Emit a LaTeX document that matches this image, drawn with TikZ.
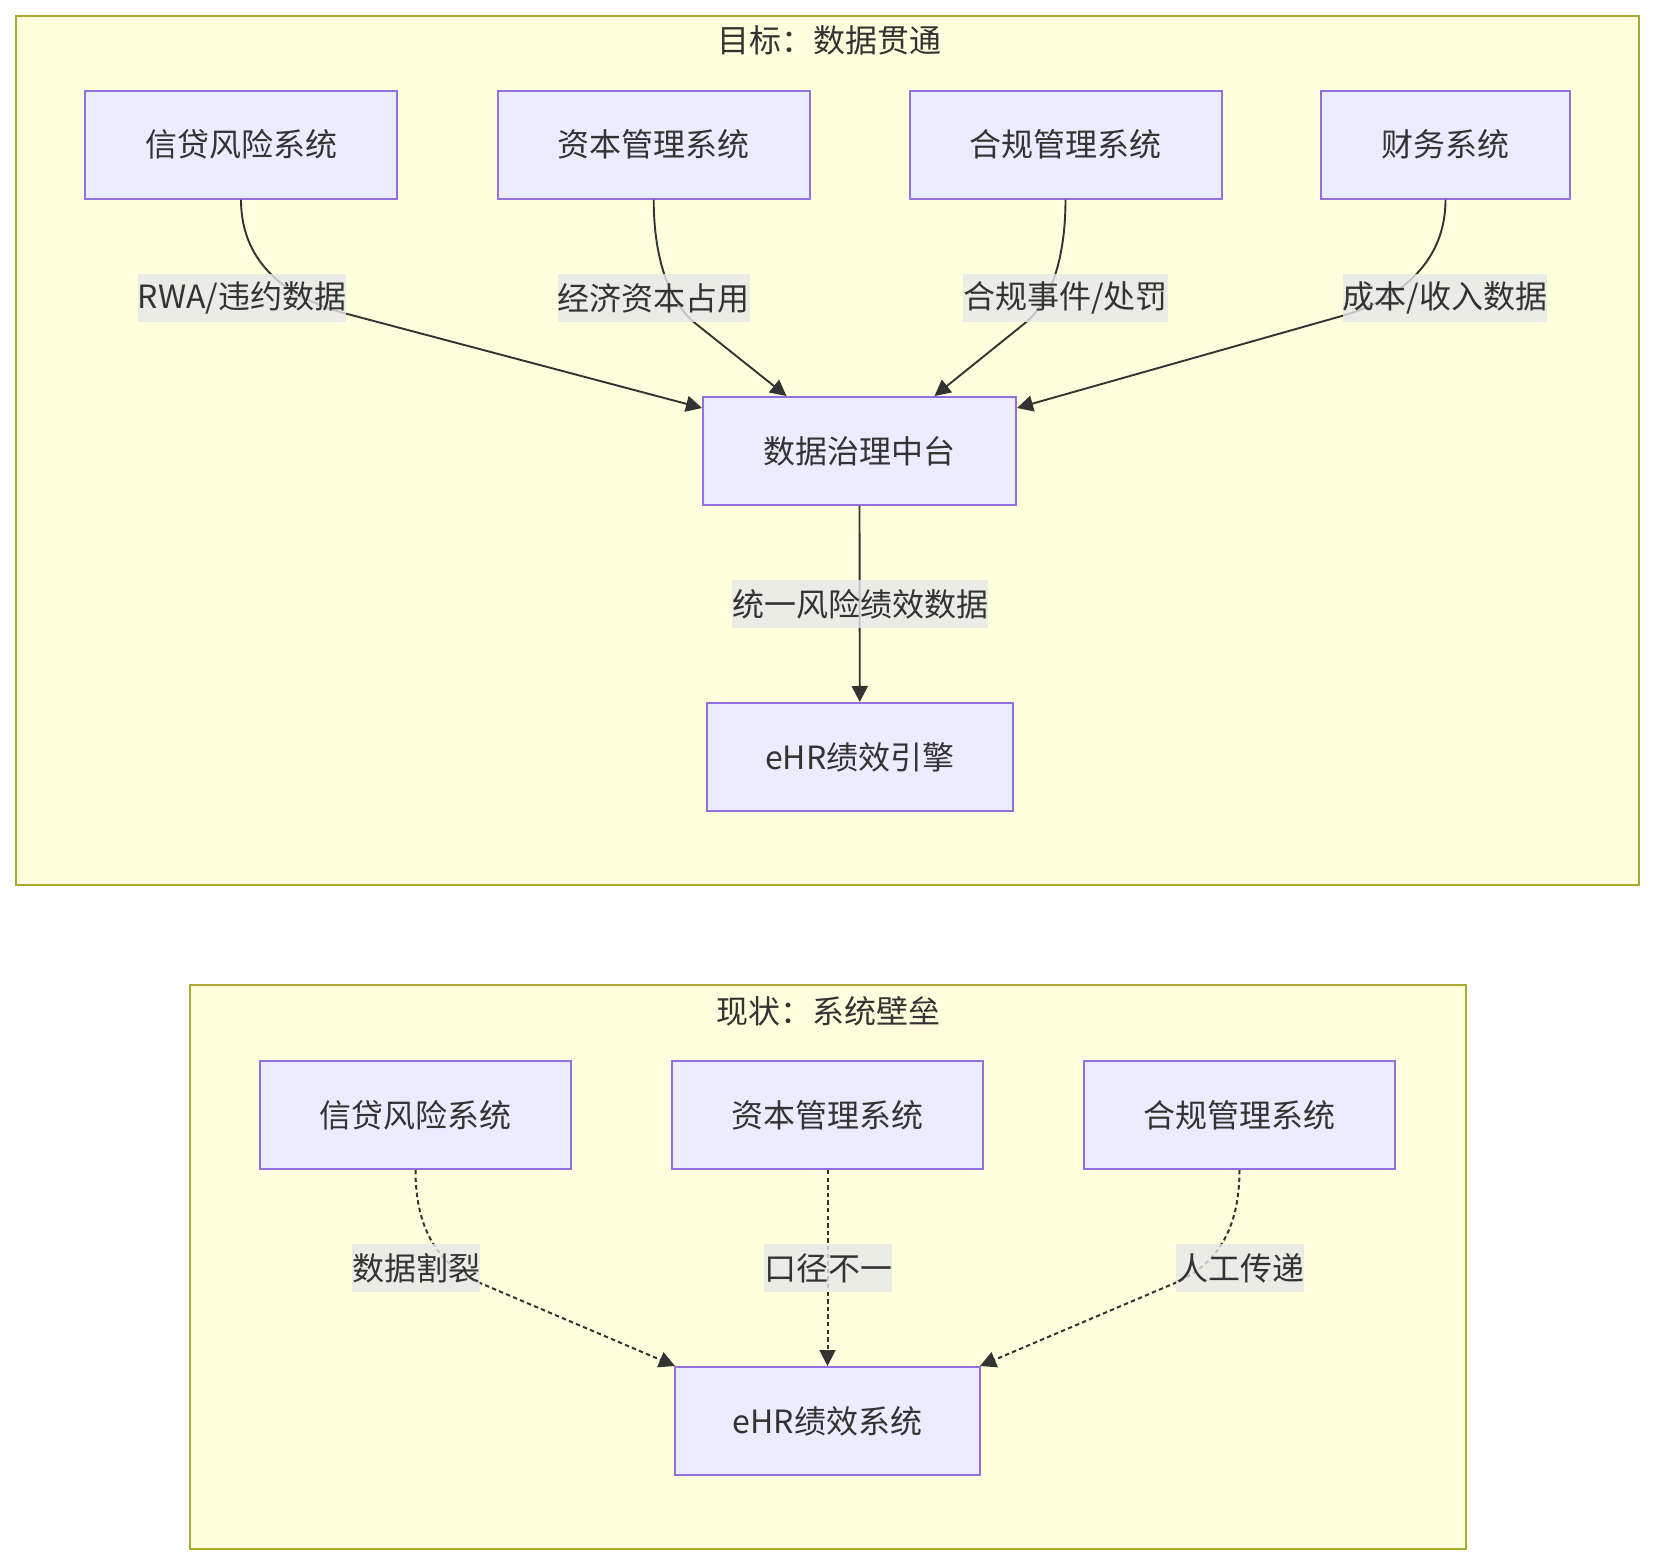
\documentclass[tikz,border=0pt]{standalone}
\usepackage{fontspec}
\setmainfont{Noto Sans CJK SC}
\usetikzlibrary{arrows.meta,calc}
\definecolor{nodefill}{HTML}{ECECFF}
\definecolor{nodeborder}{HTML}{9370DB}
\definecolor{clusterfill}{HTML}{FFFFDE}
\definecolor{clusterborder}{HTML}{AAAA33}
\definecolor{textc}{HTML}{333333}
\definecolor{edgec}{HTML}{333333}
\definecolor{labelbg}{HTML}{E8E8E8}
\begin{document}
\begin{tikzpicture}[x=0.5pt,y=-0.5pt,
  font=\fontsize{16pt}{20pt}\selectfont,
  cluster/.style={draw=clusterborder, fill=clusterfill, line width=1pt},
  sysbox/.style={draw=nodeborder, fill=nodefill, line width=1pt, minimum height=54pt, inner sep=0pt, text=textc},
  elabel/.style={fill=labelbg, fill opacity=0.8, text opacity=1, inner sep=0pt, minimum height=24pt, text=textc},
  ctitle/.style={text=textc, inner sep=0pt},
  edge/.style={draw=edgec, line width=0.95pt, -{Triangle[length=8pt,width=8pt]}},
  dotedge/.style={edge, line width=1pt, dash pattern=on 2.2pt off 1.6pt},
]
\useasboundingbox (0,0) rectangle (1656,1566);
\fill[white] (0,0) rectangle (1656,1566);

% clusters
\draw[cluster] (15.8,15.8) rectangle (1639,885);
\node[ctitle] (T1) at (829,40.5) {目标：数据贯通};
\draw[cluster] (190,985.5) rectangle (1466,1549);
\node[ctitle] (T2) at (828,1011) {现状：系统壁垒};

% top nodes
\node[sysbox, minimum width=156pt] (A1) at (241,144.6) {信贷风险系统};
\node[sysbox, minimum width=156pt] (A2) at (653.7,144.6) {资本管理系统};
\node[sysbox, minimum width=156pt] (A3) at (1065.5,144.6) {合规管理系统};
\node[sysbox, minimum width=124.5pt] (A4) at (1445.5,144.6) {财务系统};
\node[sysbox, minimum width=156.5pt] (M) at (859.5,451) {数据治理中台};
\node[sysbox, minimum width=153pt] (E) at (859.8,757) {eHR绩效引擎};

% bottom nodes
\node[sysbox, minimum width=155.5pt] (B1) at (415.5,1115) {信贷风险系统};
\node[sysbox, minimum width=155.5pt] (B2) at (827.5,1115) {资本管理系统};
\node[sysbox, minimum width=155.5pt] (B3) at (1239.5,1115) {合规管理系统};
\node[sysbox, minimum width=152.5pt] (BE) at (827.5,1421) {eHR绩效系统};

% top edges
\draw[edge] (A1.south) .. controls +(0,66) and +(-54,-15) .. ($(A1.south)+(103,113.5)$) -- ($(M.north west)+(0,12)$);
\draw[edge] (A2.south) .. controls +(0,56.5) and +(-27,-22.4) .. ($(A2.south)+(41.3,123.5)$) -- ($(M.north)+(-73,0)$);
\draw[edge] (A3.south) .. controls +(0,56.5) and +(27,-22.4) .. ($(A3.south)+(-40.5,123.5)$) -- ($(M.north)+(75,0)$);
\draw[edge] (A4.south) .. controls +(0,66) and +(54,-15.5) .. ($(A4.south)+(-104,116.5)$) -- ($(M.north east)+(0,12)$);
\draw[edge] (M.south) -- (E.north);

% bottom edges
\draw[dotedge] (B1.south) .. controls +(0,60) and +(-41.3,-18) .. ($(B1.south)+(64.5,113)$) -- ($(BE.north west)+(1,0)$);
\draw[dotedge] (B2.south) -- (BE.north);
\draw[dotedge] (B3.south) .. controls +(0,60) and +(41.3,-18) .. ($(B3.south)+(-64.5,113)$) -- ($(BE.north east)+(-1,0)$);

% edge labels
\node[elabel] (L1) at (242,298) {RWA/违约数据};
\node[elabel] (L2) at (653.8,298) {经济资本占用};
\node[elabel] (L3) at (1065.5,298) {合规事件/处罚};
\node[elabel] (L4) at (1445,298) {成本/收入数据};
\node[elabel] (L5) at (860,604) {统一风险绩效数据};
\node[elabel] (LB1) at (416,1268) {数据割裂};
\node[elabel] (LB2) at (828,1268) {口径不一};
\node[elabel] (LB3) at (1240,1268) {人工传递};
\end{tikzpicture}
\end{document}
